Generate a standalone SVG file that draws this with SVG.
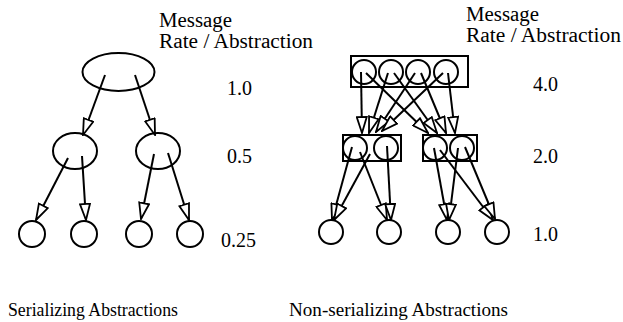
<svg xmlns="http://www.w3.org/2000/svg" width="623" height="322" viewBox="0 0 623 322">
<style>
.n{fill:#fff;stroke:#000;stroke-width:2}
.c line{stroke:#000;stroke-width:2;marker-end:url(#ah)}
text{font-family:"Liberation Serif","Times New Roman",serif;font-size:20px;fill:#000}
.cap{font-size:19.5px}
</style>
<defs>
<marker id="ah" viewBox="-1 -1 18 12" refX="16" refY="5" markerWidth="18" markerHeight="12" markerUnits="userSpaceOnUse" orient="auto">
<path d="M0,0 L16,5 L0,10 Z" fill="#fff" stroke="#000" stroke-width="1.8" stroke-linejoin="miter"/>
</marker>
</defs>
<rect width="623" height="322" fill="#fff"/>
<g id="left-top"><ellipse class="n" cx="118.5" cy="72" rx="36" ry="19"/></g>
<g id="left-mid1"><ellipse class="n" cx="75" cy="151" rx="22" ry="18"/></g>
<g id="left-mid2"><ellipse class="n" cx="158" cy="151" rx="22" ry="18"/></g>
<g id="left-b1"><circle class="n" cx="32" cy="234" r="13"/></g>
<g id="left-b2"><circle class="n" cx="84" cy="234" r="13"/></g>
<g id="left-b3"><circle class="n" cx="139" cy="234" r="13"/></g>
<g id="left-b4"><circle class="n" cx="190" cy="234" r="13"/></g>
<g id="right-top"><rect class="n" x="351" y="56" width="117" height="31"/>
<circle class="n" cx="364" cy="72" r="12"/><circle class="n" cx="391" cy="72" r="12"/><circle class="n" cx="418" cy="72" r="12"/><circle class="n" cx="446" cy="72" r="12"/></g>
<g id="right-mid1"><rect class="n" x="343" y="135" width="58" height="26"/>
<circle class="n" cx="355" cy="148" r="12"/><circle class="n" cx="386" cy="148" r="12"/></g>
<g id="right-mid2"><rect class="n" x="423" y="135" width="54" height="26"/>
<circle class="n" cx="435" cy="148" r="12"/><circle class="n" cx="462" cy="148" r="12"/></g>
<g id="right-b1"><circle class="n" cx="331" cy="232" r="12"/></g>
<g id="right-b2"><circle class="n" cx="389" cy="232" r="12"/></g>
<g id="right-b3"><circle class="n" cx="448" cy="232" r="12"/></g>
<g id="right-b4"><circle class="n" cx="497" cy="232" r="12"/></g>
<g id="connectors" class="c">
<line x1="105" y1="75" x2="83" y2="135"/>
<line x1="135" y1="75" x2="155" y2="135"/>
<line x1="68" y1="158" x2="36" y2="220"/>
<line x1="82" y1="156" x2="86" y2="220"/>
<line x1="154" y1="154" x2="141" y2="219"/>
<line x1="168" y1="153" x2="189" y2="220"/>
<line x1="361" y1="72" x2="362" y2="133"/>
<line x1="366" y1="73" x2="428" y2="133"/>
<line x1="388" y1="73" x2="369" y2="133"/>
<line x1="394" y1="73" x2="437" y2="133"/>
<line x1="415" y1="73" x2="376" y2="132"/>
<line x1="421" y1="73" x2="446" y2="133"/>
<line x1="443" y1="73" x2="382" y2="131"/>
<line x1="448" y1="73" x2="455" y2="133"/>
<line x1="352" y1="147" x2="332" y2="220"/>
<line x1="360" y1="152" x2="387" y2="220"/>
<line x1="370" y1="154" x2="334" y2="220"/>
<line x1="387" y1="146" x2="391" y2="220"/>
<line x1="434" y1="148" x2="447" y2="220"/>
<line x1="440" y1="150" x2="493" y2="220"/>
<line x1="458" y1="148" x2="449" y2="220"/>
<line x1="465" y1="147" x2="495" y2="219"/>
</g>
<text x="159" y="27" textLength="73" lengthAdjust="spacingAndGlyphs">Message</text>
<text x="159" y="48" textLength="154" lengthAdjust="spacingAndGlyphs">Rate / Abstraction</text>
<text x="466" y="21" textLength="73" lengthAdjust="spacingAndGlyphs">Message</text>
<text x="466" y="42" textLength="155" lengthAdjust="spacingAndGlyphs">Rate / Abstraction</text>
<text x="227" y="95">1.0</text>
<text x="227" y="163">0.5</text>
<text x="221" y="247">0.25</text>
<text x="533" y="91">4.0</text>
<text x="533" y="163">2.0</text>
<text x="533" y="241">1.0</text>
<text class="cap" x="8" y="316" textLength="170" lengthAdjust="spacingAndGlyphs">Serializing Abstractions</text>
<text class="cap" x="289" y="316" textLength="219" lengthAdjust="spacingAndGlyphs">Non-serializing Abstractions</text>
</svg>
